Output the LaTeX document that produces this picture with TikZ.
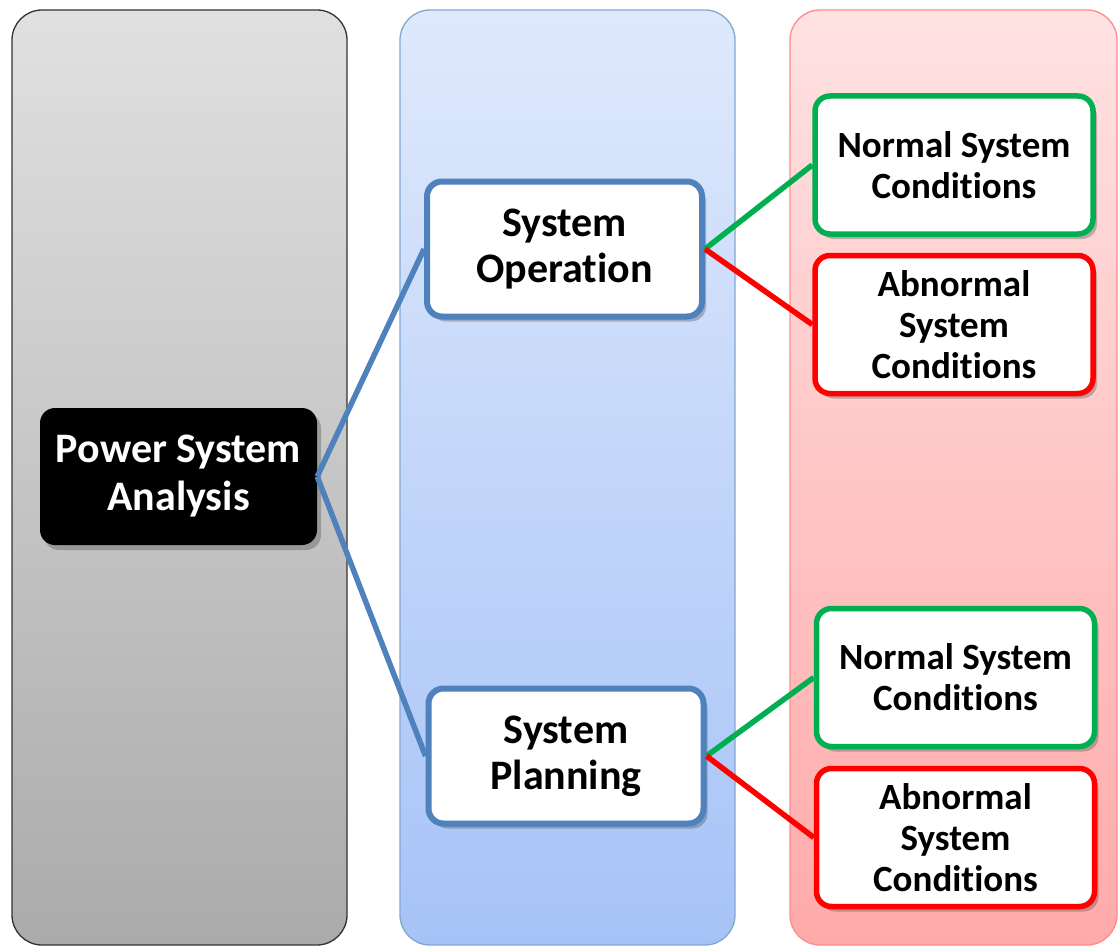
\documentclass[tikz,border=0pt]{standalone}
\usepackage{fontspec}
\setmainfont[RawFeature={-liga;-clig;-calt;-dlig}]{Carlito}
\usepackage{tikz}
\usetikzlibrary{positioning}
\usetikzlibrary{shadows}

\definecolor{opblue}{HTML}{4F81BD}
\definecolor{okgreen}{HTML}{00B050}
\definecolor{faultred}{HTML}{FF0000}

\tikzset{
  lane/.style={rounded corners=30pt, line width=1.3pt},
  boxshadow/.style={drop shadow={shadow xshift=4pt, shadow yshift=-5pt, opacity=0.35, fill=black!70}},
  mainbox/.style={rectangle, rounded corners=15pt, fill=black, text=white, align=center,
    font=\fontsize{42}{48}\selectfont\bfseries, minimum width=277pt, minimum height=137pt, boxshadow},
  taskbox/.style={rectangle, rounded corners=15pt, draw=opblue, line width=6pt, fill=white, align=center,
    font=\fontsize{42}{46}\selectfont\bfseries, minimum width=275pt, minimum height=135pt, boxshadow},
  condbox/.style={rectangle, rounded corners=15pt, line width=5.5pt, fill=white, align=center,
    font=\fontsize{37}{41}\selectfont\bfseries, minimum width=278pt, minimum height=138pt, boxshadow},
  goodbox/.style={condbox, draw=okgreen},
  badbox/.style={condbox, draw=faultred},
  link/.style={line width=5.5pt}
}

\begin{document}
\begin{tikzpicture}[x=1pt, y=-1pt]
\useasboundingbox (0,0) rectangle (1118,947);

% the three lanes
\draw [lane, draw=black!80, top color=black!12, bottom color=black!33] (12,10) rectangle (347,945);
\draw [lane, draw=opblue!70, top color={rgb,255:red,223;green,233;blue,252}, bottom color={rgb,255:red,166;green,195;blue,247}] (400,10) rectangle (735,945);
\draw [lane, draw=faultred!45, top color={rgb,255:red,255;green,226;blue,226}, bottom color={rgb,255:red,255;green,170;blue,170}] (790,10) rectangle (1117,945);

\node [mainbox] (psa) at (178.5, 476.5) {Power System\\Analysis};
\node [taskbox] (oper) at (564.5, 249) {System\\Operation};
\node [taskbox] (plan) at (566, 756) {System\\Planning};

\node [goodbox] (opnormal) at (954, 165) {Normal System\\Conditions};
\node [badbox] (opfault) at (954, 324.5) {Abnormal\\System\\Conditions};
\node [goodbox] (plnormal) at (955.5, 677.5) {Normal System\\Conditions};
\node [badbox] (plfault) at (955.5, 837.5) {Abnormal\\System\\Conditions};

\draw [link, draw=opblue] (psa.east) -- (oper.west);
\draw [link, draw=opblue] (psa.east) -- (plan.west);
\draw [link, draw=okgreen] (oper.east) -- (opnormal.west);
\draw [link, draw=faultred] (oper.east) -- (opfault.west);
\draw [link, draw=okgreen] (plan.east) -- (plnormal.west);
\draw [link, draw=faultred] (plan.east) -- (plfault.west);
\end{tikzpicture}
\end{document}
